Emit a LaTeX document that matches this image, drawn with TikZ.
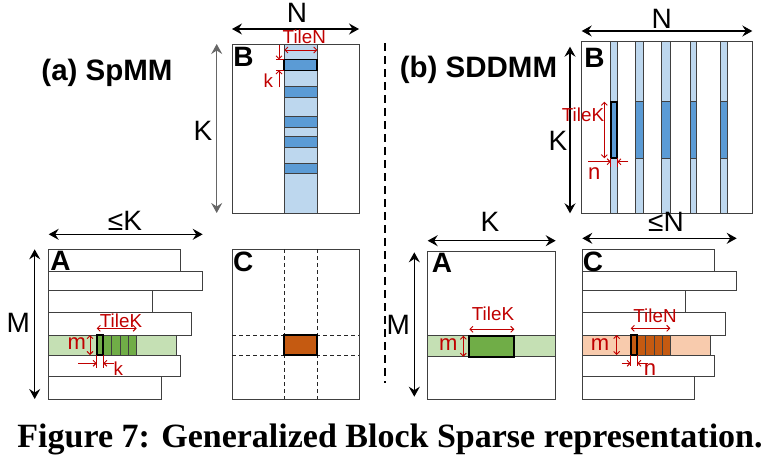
\documentclass[tikz,border=0pt]{standalone}
\usepackage{fontspec}
\setmainfont{Liberation Serif}
\setsansfont{Liberation Sans}
\usetikzlibrary{arrows.meta}
\definecolor{tilered}{HTML}{C00000}
\definecolor{bluelight}{HTML}{BDD7EE}
\definecolor{bluedark}{HTML}{5B9BD5}
\definecolor{greenlight}{HTML}{C5E0B4}
\definecolor{greendark}{HTML}{70AD47}
\definecolor{orangelight}{HTML}{F8CBAD}
\definecolor{orangedark}{HTML}{C55A11}
\tikzset{mat/.style={draw=black!75,line width=0.9pt,inner sep=0pt,outer sep=0pt,anchor=north west},
    blk/.style={draw=black,line width=1.8pt,inner sep=0pt,outer sep=0pt,anchor=north west},
    cell/.style={draw=black!75,line width=0.8pt},
    dimarrow/.style={line width=1.2pt,{Stealth[length=10pt,width=11pt,inset=3.5pt]}-{Stealth[length=10pt,width=11pt,inset=3.5pt]}},
    tile/.style={draw=tilered,line width=0.9pt,{Straight Barb[length=3pt,width=6pt]}-{Straight Barb[length=3pt,width=6pt]}},
    tileto/.style={draw=tilered,line width=0.9pt,-{Straight Barb[length=3pt,width=6pt]}},
    tilemark/.style={draw=tilered,line width=0.8pt},
    dashgrid/.style={draw=black!85,line width=0.8pt,dash pattern=on 4pt off 3pt},
    divider/.style={line width=1.8pt,dash pattern=on 8pt off 5pt},
    big/.style={font=\sffamily\fontsize{28}{28}\selectfont,inner sep=0pt},
    letter/.style={font=\sffamily\bfseries\fontsize{28}{28}\selectfont,inner sep=0pt},
    hdr/.style={font=\sffamily\bfseries\fontsize{29.5}{29.5}\selectfont,inner sep=0pt,anchor=base},
    tilelbl/.style={text=tilered,font=\sffamily\fontsize{18.8}{18.8}\selectfont,inner sep=0pt},
    smalllbl/.style={text=tilered,font=\sffamily\fontsize{22}{22}\selectfont,inner sep=0pt}}
\begin{document}
\begin{tikzpicture}[x=1pt,y=-1pt]
\useasboundingbox (0,0) rectangle (767,458);

\node[hdr] (titleA) at (107,80.5) {(a) SpMM};
\node[mat,minimum width=127,minimum height=169] (Ba) at (232,44) {};
\node[mat,fill=bluelight,minimum width=33,minimum height=169] (colBa) at (284.3,44) {};
\foreach \y in {86.7,116.7,136.7,163.3}
    \draw[cell,fill=bluedark] (284.3,\y) rectangle +(33,10.5);
\node[blk,fill=bluedark,minimum width=33,minimum height=11] (tBa) at (284.3,59.4) {};
\draw[dimarrow] ([yshift=15]Ba.north west) -- ([yshift=15]Ba.north east);
\draw[dimarrow,color=black!60] ([xshift=-15.3]Ba.north west) -- ([xshift=-15.3]Ba.south west);
\draw[tile] ([yshift=9.4]tBa.north west) -- ([yshift=9.4]tBa.north east);
\draw[tilemark] (tBa.north west) -- ++(-8.6,0);
\draw[tilemark] (tBa.south west) -- ++(-8.6,0);
\draw[tileto] ([xshift=-5.3,yshift=14]tBa.north west) -- ([xshift=-5.3]tBa.north west);
\draw[tileto] ([xshift=-5.3,yshift=-17]tBa.south west) -- ([xshift=-5.3]tBa.south west);
\node[big] (Na) at (297,13) {N};
\node[big] (Ka) at (203,131) {K};
\node[tilelbl] (TNa) at (304.3,36.3) {TileN};
\node[tilelbl] (ka) at (268.3,81) {k};
\node[letter] (labBa) at (243.5,56.7) {B};

\foreach \n/\t/\b/\r/\c in {1/249.3/271/180.7/white,2/271/290.7/202.7/white,3/290.7/312.7/152.3/white,
    4/312.7/335/191.7/white,5/335/355/176.7/greenlight,6/355/376.7/180.7/white,7/376.7/399/161/white}
    \node[mat,fill=\c,minimum width=\r-48.7,minimum height=\b-\t] (Aa\n) at (48.7,\t) {};
\foreach \x in {103.3,111.7,120,128.3}
    \draw[cell,fill=greendark] (\x,335) rectangle +(8.4,20);
\node[blk,fill=greendark,minimum width=6.6,minimum height=20] (tAa) at (96.7,335) {};
\draw[dimarrow] ([yshift=15]Aa1.north west) -- ([yshift=15]Aa1.north west -| Aa2.east);
\draw[dimarrow] ([xshift=-14]Aa1.north west) -- ([xshift=-14]Aa7.south west);
\draw[tile] ([yshift=6.7]tAa.north west) -- ([xshift=40,yshift=6.7]tAa.north west);
\draw[tile] ([xshift=-6.7]tAa.north west) -- ([xshift=-6.7]tAa.south west);
\draw[tilemark] (tAa.south west) -- ++(0,13);
\draw[tilemark] (tAa.south east) -- ++(0,13);
\draw[tileto] ([xshift=-18.4,yshift=-8.3]tAa.south west) -- ([yshift=-8.3]tAa.south west);
\draw[tileto] ([xshift=11,yshift=-8.3]tAa.south east) -- ([yshift=-8.3]tAa.south east);
\node[big] (leKa) at (125,221) {≤K};
\node[big] (Ma) at (18.3,323) {M};
\node[tilelbl] (TKa) at (121,320.3) {TileK};
\node[smalllbl] (ma) at (76.7,344) {m};
\node[tilelbl] (kka) at (118.3,368.5) {k};
\node[letter] (labAa) at (60.5,261.2) {A};

\node[mat,minimum width=127,minimum height=150] (Ca) at (232,249.3) {};
\draw[dashgrid] (colBa.west |- Ca.north) -- (colBa.west |- Ca.south);
\draw[dashgrid] (colBa.east |- Ca.north) -- (colBa.east |- Ca.south);
\draw[dashgrid] (Ca.west |- Aa5.north) -- (Ca.east |- Aa5.north);
\draw[dashgrid] (Ca.west |- Aa5.south) -- (Ca.east |- Aa5.south);
\node[blk,fill=orangedark,minimum width=33,minimum height=20] (tCa) at (colBa.west |- Aa5.north) {};
\node[letter] (labCa) at (243.3,262) {C};

\draw[divider] (385,43) -- (385,383);

\node[hdr] (titleB) at (478.5,77) {(b) SDDMM};
\node[mat,minimum width=170.6,minimum height=171.6] (Bb) at (581.7,41.7) {};
\foreach \x/\w in {635/8.7,661.7/8.3,690/6.7,720.7/6.6} {
    \draw[cell,fill=bluelight] (\x,41.7) rectangle +(\w,171.6);
    \draw[cell,fill=bluedark] (\x,101.7) rectangle +(\w,56.6);
}
\node[mat,fill=bluelight,minimum width=6.6,minimum height=171.6] (colBb) at (610.7,41.7) {};
\node[blk,fill=bluedark,minimum width=6.6,minimum height=56.6] (tBb) at (610.7,101.7) {};
\draw[dimarrow] ([yshift=10.7]Bb.north west) -- ([yshift=10.7]Bb.north east);
\draw[dimarrow] ([xshift=-11.7,yshift=-5]Bb.north west) -- ([xshift=-11.7]Bb.south west);
\draw[tile] ([xshift=-6.4]tBb.north west) -- ([xshift=-6.4]tBb.south west);
\draw[tilemark] (tBb.south west) -- ++(0,8.4);
\draw[tilemark] (tBb.south east) -- ++(0,8.4);
\draw[tileto] ([xshift=-22.4,yshift=-3.4]tBb.south west) -- ([yshift=-3.4]tBb.south west);
\draw[tileto] ([xshift=11,yshift=-3.4]tBb.south east) -- ([yshift=-3.4]tBb.south east);
\node[big] (Nb) at (661.7,18.8) {N};
\node[big] (Kb) at (558,141) {K};
\node[tilelbl] (TKb) at (583,114.5) {TileK};
\node[smalllbl] (nb) at (594.3,174) {n};
\node[letter] (labBb) at (594.5,58.3) {B};

\node[mat,minimum width=128,minimum height=148] (Ab) at (427.7,251) {};
\node[mat,fill=greenlight,minimum width=128,minimum height=21] (rowAb) at (427.7,335.7) {};
\node[blk,fill=greendark,minimum width=45,minimum height=21] (tAb) at (469.3,335.7) {};
\draw[dimarrow] ([yshift=10.3]Ab.north west) -- ([yshift=10.3]Ab.north east);
\draw[dimarrow] ([xshift=-13.4,yshift=-1.3]Ab.north west) -- ([xshift=-13.4,yshift=2.3]Ab.south west);
\draw[tile] ([yshift=6.4]tAb.north west) -- ([yshift=6.4]tAb.north east);
\draw[tile] ([xshift=-6]tAb.north west) -- ([xshift=-6]tAb.south west);
\node[big] (Kab) at (490,222) {K};
\node[big] (Mb) at (398.3,325) {M};
\node[tilelbl] (TKab) at (493,313.8) {TileK};
\node[smalllbl] (mb) at (448.3,345) {m};
\node[letter] (labAb) at (442,263.3) {A};

\foreach \n/\t/\b/\r/\c in {1/249.3/271/714.3/white,2/271/290.7/736.7/white,3/290.7/312.7/685.7/white,
    4/312.7/335/725.7/white,5/335/355/710/orangelight,6/355/376.7/714.3/white,7/376.7/399/694.3/white}
    \node[mat,fill=\c,minimum width=\r-582.3,minimum height=\b-\t] (Cb\n) at (582.3,\t) {};
\foreach \x in {637.3,645.6,653.9,662.2}
    \draw[cell,fill=orangedark] (\x,335) rectangle +(8.3,20);
\node[blk,fill=orangedark,minimum width=6.6,minimum height=20] (tCb) at (630.7,335) {};
\draw[dimarrow] ([yshift=11]Cb1.north west) -- ([yshift=11]Cb1.north west -| Cb2.east);
\draw[tile] ([yshift=6.7]tCb.north west) -- ([xshift=39.6,yshift=6.7]tCb.north west);
\draw[tile] ([xshift=-14]tCb.north west) -- ([xshift=-14]tCb.south west);
\draw[tilemark] (tCb.south west) -- ++(0,11);
\draw[tilemark] (tCb.south east) -- ++(0,11);
\draw[tileto] ([xshift=-9,yshift=-8.3]tCb.south west) -- ([yshift=-8.3]tCb.south west);
\draw[tileto] ([xshift=11,yshift=-8.3]tCb.south east) -- ([yshift=-8.3]tCb.south east);
\node[big] (leNb) at (666,222) {≤N};
\node[tilelbl] (TNb) at (655,316) {TileN};
\node[smalllbl] (mcb) at (600,345) {m};
\node[smalllbl] (ncb) at (650,370) {n};
\node[letter] (labCb) at (593,262.3) {C};

\node[font=\bfseries\fontsize{34}{34}\selectfont,inner sep=0pt,anchor=base] (caption) at (390,447) {Figure 7: Generalized Block Sparse representation.};
\end{tikzpicture}
\end{document}
